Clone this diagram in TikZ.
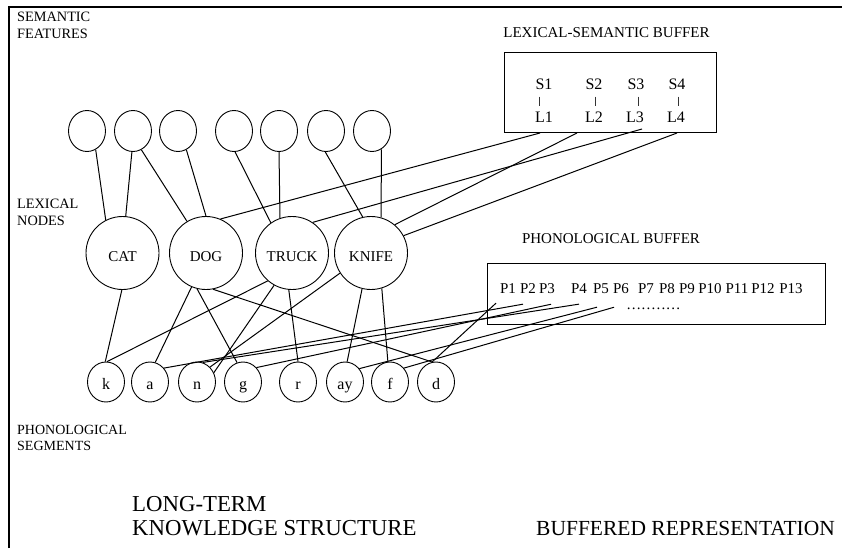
\documentclass[tikz,border=0pt]{standalone}
\usepackage{fontspec}
\setmainfont{Liberation Serif}
\usetikzlibrary{shapes.geometric}
\begin{document}
\begin{tikzpicture}[x=1pt,y=-1pt,
  every node/.style={inner sep=0pt},
  conn/.style={line width=1pt},
  feat/.style={draw,ellipse,line width=0.9pt,minimum width=37pt,minimum height=41pt},
  lex/.style={draw,circle,line width=0.9pt,minimum size=73pt,text height=16pt,text depth=0pt,font=\fontsize{15}{18}\selectfont},
  seg/.style={draw,ellipse,line width=0.9pt,minimum width=37pt,minimum height=40pt,text height=15pt,text depth=0pt,font=\fontsize{16}{18}\selectfont},
  side/.style={align=left,anchor=west,font=\fontsize{14.3}{17}\selectfont},
  lbl/.style={font=\fontsize{15}{18}\selectfont},
  sl/.style={font=\fontsize{16}{18}\selectfont},
  big/.style={align=left,anchor=west,font=\fontsize{22.8}{24}\selectfont},
  buf/.style={draw,line width=1pt},
  tick/.style={line width=0.6pt,black!80}
]
\useasboundingbox (0,0) rectangle (842,548);
\draw[line width=1.2pt] (9,548) -- (9,7) -- (842,7);

% side labels
\node[side] (tSF) at (17,25.5) {SEMANTIC\\FEATURES};
\node[side] (tLN) at (17,212.5) {LEXICAL\\NODES};
\node[side,font=\fontsize{14}{16.5}\selectfont] (tPS) at (17,438) {PHONOLOGICAL\\SEGMENTS};
\node[big] (tLT) at (132,516.5) {LONG-TERM\\KNOWLEDGE STRUCTURE};
\node[big,font=\fontsize{21.5}{24}\selectfont] (tBR) at (536,528.5) {BUFFERED REPRESENTATION};

% semantic features
\node[feat] (F1) at (87,131) {};
\node[feat] (F2) at (133,131) {};
\node[feat] (F3) at (178,131) {};
\node[feat] (F4) at (234,131) {};
\node[feat] (F5) at (279,131) {};
\node[feat] (F6) at (326,131) {};
\node[feat] (F7) at (372,131) {};

% lexical nodes
\node[lex] (CAT) at (122.5,253) {CAT};
\node[lex] (DOG) at (206,253) {DOG};
\node[lex] (TRUCK) at (292,253) {TRUCK};
\node[lex] (KNIFE) at (371,253) {KNIFE};

% phonological segments
\node[seg] (k) at (106,382) {k};
\node[seg] (a) at (150,382) {a};
\node[seg] (n) at (197,382) {n};
\node[seg] (g) at (243,382) {g};
\node[seg] (r) at (298,382) {r};
\node[seg] (ay) at (345,382) {ay};
\node[seg] (f) at (390,382) {f};
\node[seg] (d) at (436,382) {d};

% lexical-semantic buffer
\node[lbl] (tLSB) at (606.5,33) {LEXICAL-SEMANTIC BUFFER};
\node[buf,minimum width=212pt,minimum height=80pt] (lsb) at (610,93) {};
\node[sl] (S1) at (544,84) {S1};
\node[sl] (S2) at (594,84) {S2};
\node[sl] (S3) at (636,84) {S3};
\node[sl] (S4) at (677,84) {S4};
\node[sl] (L1) at (544,117.5) {L1};
\node[sl] (L2) at (594,117.5) {L2};
\node[sl] (L3) at (635,117.5) {L3};
\node[sl] (L4) at (676,117.5) {L4};
\draw[tick,shorten <=7pt,shorten >=6pt] ([xshift=-5pt]S1.south) -- ([xshift=-5pt]L1.north);
\draw[tick,shorten <=7pt,shorten >=6pt] ([xshift=1pt]S2.south) -- ([xshift=1pt]L2.north);
\draw[tick,shorten <=7pt,shorten >=6pt] ([xshift=2pt]S3.south) -- ([xshift=3pt]L3.north);
\draw[tick,line width=0.9pt,shorten <=7pt,shorten >=6pt] ([xshift=1pt]S4.south) -- ([xshift=2pt]L4.north);

% phonological buffer
\node[lbl] (tPB) at (611,238.5) {PHONOLOGICAL BUFFER};
\node[buf,minimum width=338pt,minimum height=61pt] (pb) at (656,293.5) {};
\node[lbl] (P1) at (508,289) {P1};
\node[lbl] (P2) at (528,289) {P2};
\node[lbl] (P3) at (547,289) {P3};
\node[lbl] (P4) at (579,289) {P4};
\node[lbl] (P5) at (601,289) {P5};
\node[lbl] (P6) at (621,289) {P6};
\node[lbl] (P7) at (646,289) {P7};
\node[lbl] (P8) at (667,289) {P8};
\node[lbl] (P9) at (687,289) {P9};
\node[lbl] (P10) at (710,289) {P10};
\node[lbl] (P11) at (737,289) {P11};
\node[lbl] (P12) at (763,289) {P12};
\node[lbl] (P13) at (791,289) {P13};
\node[lbl] (dots) at (653.5,309) {.\kern1.2pt.\kern1.2pt.\kern1.2pt.\kern1.2pt.\kern1.2pt.\kern1.2pt.\kern1.2pt.\kern1.2pt.\kern1.2pt.\kern1.2pt.};

\coordinate (q1) at ([xshift=-12pt,yshift=-9pt]P1.south);
\coordinate (q2) at ([xshift=-5pt,yshift=-10pt]P2.south);
\coordinate (q3) at ([xshift=4pt,yshift=-10pt]P3.south);
\coordinate (q4) at ([xshift=0pt,yshift=-10pt]P4.south);
\coordinate (q5) at ([xshift=-4pt,yshift=-13pt]P5.south);
\coordinate (q6) at ([xshift=-7pt,yshift=-13pt]P6.south);

% features -> lexical
\draw[conn] (F1.295) -- (CAT.117);
\draw[conn] (F2.267) -- (CAT.85);
\draw[conn] (F2.294) -- (DOG.121);
\draw[conn] (F3.294) -- (DOG.90);
\draw[conn] (F4.273) -- (TRUCK.125);
\draw[conn] (F5.270) -- (TRUCK.109);
\draw[conn] (F6.268) -- (KNIFE.103);
\draw[conn] (F7.297) -- (KNIFE.74);

% lexical-semantic buffer -> lexical
\draw[conn] ([xshift=-4pt,yshift=-15.5pt]L1.center) -- (DOG.67);
\draw[conn] ([xshift=-17pt,yshift=-15.5pt]L2.center) -- (KNIFE.50);
\draw[conn] ([xshift=7pt,yshift=-11.5pt]L3.center) -- (TRUCK.56);
\draw[conn] ([xshift=1pt,yshift=-15.5pt]L4.center) -- (KNIFE.28);

% lexical -> segments
\draw[conn] (CAT.269) -- (k.92);
\draw[conn] (DOG.247) -- (a.75);
\draw[conn] (DOG.256) -- (g.107);
\draw[conn] (DOG.281) -- (d.101);
\draw[conn] (TRUCK.229) -- (k.87);
\draw[conn] (TRUCK.241) -- (n.29);
\draw[conn] (TRUCK.265) -- (r.90);
\draw[conn] (KNIFE.213) -- (n.49);
\draw[conn] (KNIFE.256) -- (ay.84);
\draw[conn] (KNIFE.287) -- (f.96);

% segments -> phonological buffer
\draw[conn] (d.101) -- (q1);
\draw[conn] (a.45) -- (q2);
\draw[conn] (g.47) -- (q3);
\draw[conn] (n.74) -- (q4);
\draw[conn] (ay.43) -- (q5);
\draw[conn] (f.45) -- (q6);
\end{tikzpicture}
\end{document}
